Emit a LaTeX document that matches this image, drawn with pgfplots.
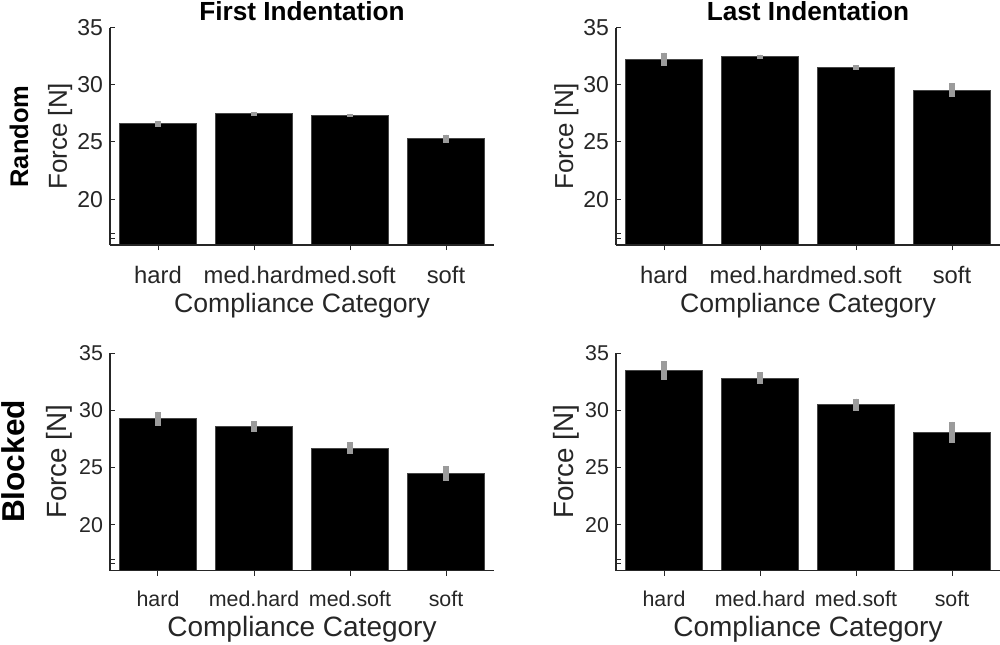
\documentclass[border=0pt]{standalone}
\usepackage{fontspec}
\setmainfont{Liberation Sans}
\usepackage{pgfplots}
\pgfplotsset{compat=1.18}
\definecolor{txt}{rgb}{0.15,0.15,0.15}
\definecolor{errc}{RGB}{155,155,155}
\definecolor{edgec}{RGB}{70,70,70}

\pgfplotsset{
 every axis title shift=0pt,
 base/.style={
  scale only axis, width=192pt, height=108.75pt,
  xmin=-0.5, xmax=3.5, ymin=16, ymax=35,
  axis lines=left, axis line style={-, draw=txt, line width=0.6pt},
  xtick={0,1,2,3}, xticklabels={hard,med.hard,med.soft,soft},
  ytick={20,25,30,35},
  extra y ticks={16.6,17}, extra y tick labels={},
  extra y tick style={tick style={draw=txt}},
  tick align=inside, major tick length=2.5pt,
  tick style={draw=txt, line width=0.5pt},
  /pgf/number format/assume math mode=true,
  ybar, bar width=0.8,
  axis on top,
  clip=true,
 },
 toprow/.style={
  tick label style={font=\fontsize{11.5}{13}\selectfont, text=txt},
  xticklabel style={anchor=base, yshift=-16.5pt, font=\fontsize{11.9}{13}\selectfont},
  xlabel style={at={(axis description cs:0.5,-0.308)}, anchor=base, font=\fontsize{13.3}{15}\selectfont, text=txt},
  ylabel style={at={(axis description cs:-0.112,0.5)}, anchor=base, rotate=0, font=\fontsize{13}{15}\selectfont, text=txt},
  title style={at={(axis description cs:0.5,1.032)}, anchor=base, font=\bfseries\fontsize{13.1}{15}\selectfont},
 },
 botrow/.style={
  tick label style={font=\fontsize{10.7}{12}\selectfont, text=txt},
  xticklabel style={anchor=base, yshift=-15.5pt},
  xlabel style={at={(axis description cs:0.5,-0.304)}, anchor=base, font=\fontsize{14}{16}\selectfont, text=txt},
  ylabel style={at={(axis description cs:-0.112,0.5)}, anchor=base, rotate=0, font=\fontsize{13.9}{16}\selectfont, text=txt},
 },
 barsty/.style={fill=black, draw=edgec, line width=0.5pt,
  error bars/.cd, y dir=both, y explicit, error mark=none,
  error bar style={line width=2.8pt, draw=errc}},
}

\begin{document}
\begin{tikzpicture}
\path[use as bounding box] (0,0) rectangle (500pt,-322pt);

% Top-left: Random, First Indentation
\begin{axis}[base, toprow, at={(55pt,-122.5pt)}, anchor=south west,
  title={First Indentation}, xlabel={Compliance Category}, ylabel={Force [N]}]
\addplot[barsty] coordinates {
 (0,26.58) +- (0,0.25)
 (1,27.46) +- (0,0.15)
 (2,27.33) +- (0,0.12)
 (3,25.29) +- (0,0.35)
};
\end{axis}

% Top-right: Random, Last Indentation
\begin{axis}[base, toprow, at={(308pt,-122.5pt)}, anchor=south west,
  title={Last Indentation}, xlabel={Compliance Category}, ylabel={Force [N]}]
\addplot[barsty] coordinates {
 (0,32.22) +- (0,0.58)
 (1,32.43) +- (0,0.20)
 (2,31.52) +- (0,0.20)
 (3,29.54) +- (0,0.57)
};
\end{axis}

% Bottom-left: Blocked, First Indentation
\begin{axis}[base, botrow, at={(55pt,-285.25pt)}, anchor=south west,
  xlabel={Compliance Category}, ylabel={Force [N]}]
\addplot[barsty] coordinates {
 (0,29.24) +- (0,0.65)
 (1,28.57) +- (0,0.48)
 (2,26.69) +- (0,0.55)
 (3,24.45) +- (0,0.67)
};
\end{axis}

% Bottom-right: Blocked, Last Indentation
\begin{axis}[base, botrow, at={(308pt,-285.25pt)}, anchor=south west,
  xlabel={Compliance Category}, ylabel={Force [N]}]
\addplot[barsty] coordinates {
 (0,33.49) +- (0,0.83)
 (1,32.79) +- (0,0.52)
 (2,30.46) +- (0,0.55)
 (3,28.08) +- (0,0.90)
};
\end{axis}

\node[rotate=90, anchor=base, font=\bfseries\fontsize{12.75}{15}\selectfont] at (14pt,-68.25pt) {Random};
\node[rotate=90, anchor=base, font=\bfseries\fontsize{15.8}{18}\selectfont] at (12.5pt,-230.75pt) {Blocked};
\end{tikzpicture}
\end{document}
